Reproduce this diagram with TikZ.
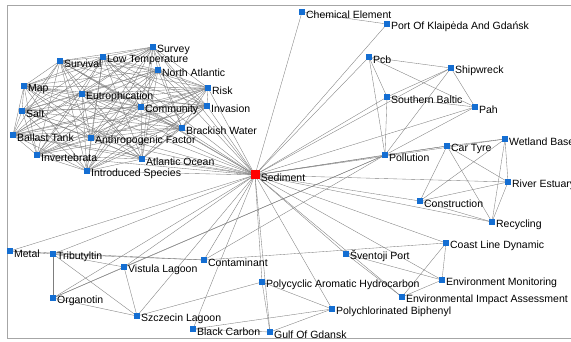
\documentclass[tikz,border=0pt]{standalone}
\usepackage{fontspec}
\setmainfont{Liberation Sans}
\usetikzlibrary{backgrounds}
\definecolor{nodeblue}{RGB}{20,110,210}
\definecolor{edgegray}{RGB}{125,125,125}
\tikzset{
  sq/.style={rectangle,fill=nodeblue,minimum size=5.5pt,inner sep=0pt,draw=none},
  sedsq/.style={rectangle,fill=red,minimum size=9pt,inner sep=0pt,draw=none},
  lbl/.style={font=\fontsize{10.5}{12}\selectfont,inner sep=0.5pt,yshift=-2.5pt,text=black},
  edge/.style={draw=edgegray,line width=0.35pt},
  frame/.style={draw=gray!70,line width=0.8pt}
}
\begin{document}
\begin{tikzpicture}[x=1pt,y=-1pt,every label/.style={lbl},label distance=0.5pt]
\useasboundingbox (0,0) rectangle (571,342);
% left cluster
\node[sq,label=right:Survey] (sv) at (153,47) {};
\node[sq,label=right:Low Temperature] (lt) at (103,57) {};
\node[sq,label=right:Survival] (su) at (60,61) {};
\node[sq,label=right:North Atlantic] (na) at (158,70) {};
\node[sq,label=right:Map] (mp) at (24,86) {};
\node[sq,label=right:Eutrophication] (eu) at (82,94) {};
\node[sq,label=right:Risk] (ri) at (208,88) {};
\node[sq,label=right:Community] (co) at (141,107) {};
\node[sq,label=right:Invasion] (in) at (207,106) {};
\node[sq,label=right:Salt] (sa) at (22,111) {};
\node[sq,label=right:Brackish Water] (bw) at (182,128) {};
\node[sq,label=right:Ballast Tank] (bt) at (13,135) {};
\node[sq,label=right:Anthropogenic Factor] (af) at (91,138) {};
\node[sq,label=right:Invertebrata] (iv) at (37,155) {};
\node[sq,label=right:Atlantic Ocean] (ao) at (142,159) {};
\node[sq,label=right:Introduced Species] (is) at (87,171) {};
% hub
\node[sedsq,label=right:Sediment] (sed) at (255,175) {};
% upper right
\node[sq,label=right:Chemical Element] (ce) at (302,12) {};
\node[sq,label=right:Port Of Klaipėda And Gdańsk] (pk) at (387,24) {};
\node[sq,label=right:Pcb] (pcb) at (369,57) {};
\node[sq,label=right:Shipwreck] (sw) at (451,68) {};
\node[sq,label=right:Southern Baltic] (sb) at (387,97) {};
\node[sq,label=right:Pah] (pah) at (475,107) {};
\node[sq,label=right:Pollution] (pol) at (385,155) {};
\node[sq,label=right:Car Tyre] (ct) at (447,146) {};
\node[sq,label=right:Wetland Base] (wb) at (505,139) {};
\node[sq,label=right:River Estuary] (re) at (508,182) {};
\node[sq,label=right:Construction] (cn) at (420,201) {};
\node[sq,label=right:Recycling] (rc) at (492,222) {};
% lower left
\node[sq,label=right:Metal] (me) at (10,251) {};
\node[sq,label=right:Tributyltin] (tb) at (53,254) {};
\node[sq,label=right:Vistula Lagoon] (vl) at (124,267) {};
\node[sq,label=right:Contaminant] (cm) at (204,260) {};
\node[sq,label=right:Organotin] (og) at (53,298) {};
\node[sq,label=right:Szczecin Lagoon] (szl) at (137,316) {};
\node[sq,label=right:Black Carbon] (bc) at (193,329) {};
% lower right
\node[sq,label=right:Coast Line Dynamic] (cld) at (446,243) {};
\node[sq,label=right:Šventoji Port] (sp) at (346,254) {};
\node[sq,label=right:Environment Monitoring] (em) at (442,280) {};
\node[sq,label=right:Polycyclic Aromatic Hydrocarbon] (pahc) at (262,282) {};
\node[sq,label=right:Environmental Impact Assessment] (eia) at (402,297) {};
\node[sq,label=right:Polychlorinated Biphenyl] (pcbp) at (332,309) {};
\node[sq,label=right:Gulf Of Gdansk] (gg) at (270,332) {};

\begin{pgfonlayer}{background}
\fill[white] (0,0) rectangle (571,342);
\draw[frame] (580,5) -- (7,5) -- (7,338) -- (580,338);
% dense cluster
\foreach \a [count=\i] in {sv,lt,su,na,mp,eu,ri,co,in,sa,bw,bt,af,iv,ao,is}{
  \foreach \b [count=\j] in {sv,lt,su,na,mp,eu,ri,co,in,sa,bw,bt,af,iv,ao,is}{
    \ifnum\j>\i \draw[edge] (\a.center) -- (\b.center); \fi
  }
}
% hub edges
\foreach \n in {sv,lt,su,na,mp,eu,ri,co,in,sa,bw,bt,af,iv,ao,is,
  ce,pk,pcb,sw,sb,pah,pol,ct,wb,re,cn,rc,cld,sp,em,eia,pcbp,pahc,gg,cm,bc,szl,vl,og,tb,me}{
  \draw[edge] (sed.center) -- (\n.center);
}
% upper right
\draw[edge] (ce.center) -- (pk.center);
\draw[edge] (pcb.center) -- (sw.center);
\draw[edge] (pcb.center) -- (pah.center);
\draw[edge] (pcb.center) -- (sb.center);
\draw[edge] (pcb.center) -- (pol.center);
\draw[edge] (sw.center) -- (sb.center);
\draw[edge] (sw.center) -- (pah.center);
\draw[edge] (sw.center) -- (pol.center);
\draw[edge] (sb.center) -- (pah.center);
\draw[edge] (sb.center) -- (pol.center);
\draw[edge] (pah.center) -- (pol.center);
\draw[edge] (pol.center) -- (ct.center);
\draw[edge] (pol.center) -- (cm.center);
\draw[edge] (ct.center) -- (wb.center);
\draw[edge] (ct.center) -- (re.center);
\draw[edge] (ct.center) -- (cn.center);
\draw[edge] (ct.center) -- (rc.center);
\draw[edge] (wb.center) -- (re.center);
\draw[edge] (wb.center) -- (rc.center);
\draw[edge] (wb.center) -- (cn.center);
\draw[edge] (re.center) -- (rc.center);
\draw[edge] (re.center) -- (cn.center);
\draw[edge] (cn.center) -- (rc.center);
% lower left
\draw[edge] (me.center) -- (tb.center);
\draw[edge] (me.center) -- (cm.center);
\draw[edge] (tb.center) -- (cm.center);
\draw[edge] (tb.center) -- (vl.center);
\draw[edge] (tb.center) -- (og.center);
\draw[edge] (tb.center) -- (szl.center);
\draw[edge] (og.center) -- (vl.center);
\draw[edge] (og.center) -- (szl.center);
\draw[edge] (og.center) -- (pol.center);
\draw[edge] (vl.center) -- (szl.center);
\draw[edge] (vl.center) -- (pol.center);
\draw[edge] (bc.center) -- (gg.center);
\draw[edge] (bc.center) -- (pcbp.center);
% lower right
\draw[edge] (cld.center) -- (em.center);
\draw[edge] (cld.center) -- (eia.center);
\draw[edge] (cld.center) -- (cm.center);
\draw[edge] (sp.center) -- (em.center);
\draw[edge] (sp.center) -- (eia.center);
\draw[edge] (em.center) -- (eia.center);
\draw[edge] (pahc.center) -- (pcbp.center);
\draw[edge] (pahc.center) -- (gg.center);
\draw[edge] (pahc.center) -- (szl.center);
\draw[edge] (gg.center) -- (pcbp.center);
\end{pgfonlayer}
\end{tikzpicture}
\end{document}
